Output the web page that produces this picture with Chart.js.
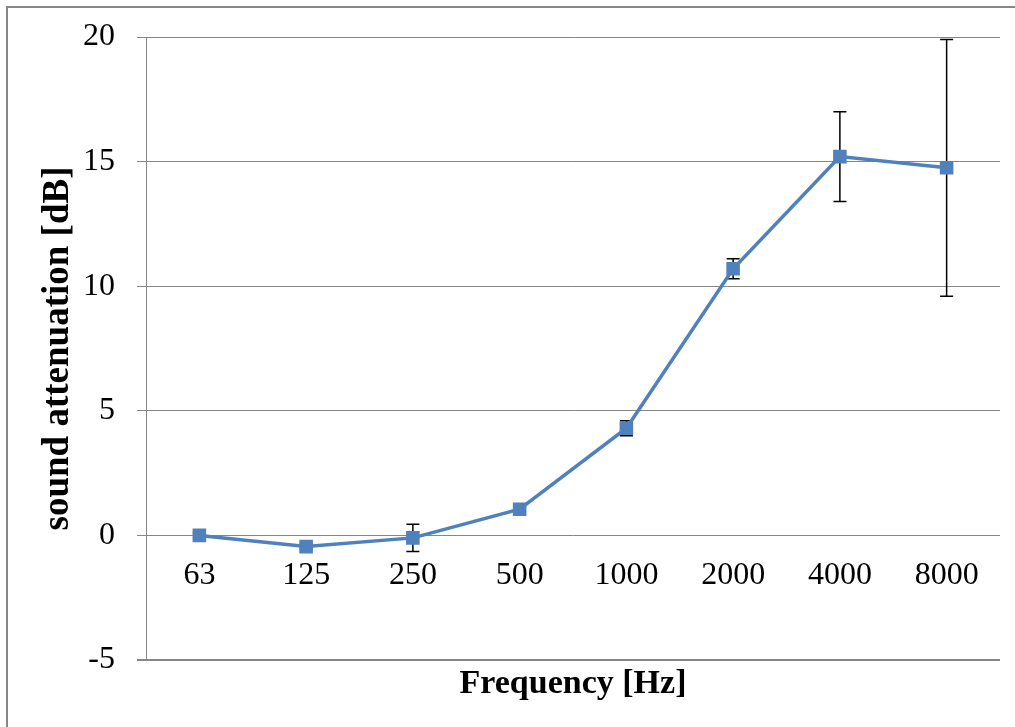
<!DOCTYPE html>
<html lang="en">
<head>
  <meta charset="UTF-8">
  <title>Sound attenuation</title>
  <script src="https://cdn.jsdelivr.net/npm/chart.js"></script>
  <style>
    body { margin:0; background:#fff; }
    #wrap { position:relative; width:1015px; height:727px; }
    #frame { position:absolute; left:6px; top:6px; right:0; bottom:0;
             border-left:2px solid #878787; border-top:2px solid #878787; pointer-events:none; }
  </style>
</head>
<body>
<div id="wrap">
  <canvas id="chart" width="1015" height="727"></canvas>
  <div id="frame"></div>
</div>

<script>
  // values
  const frequencies = ["63","125","250","500","1000","2000","4000","8000"];
  const attenuation = [0, -0.45, -0.1, 1.05, 4.3, 10.7, 15.2, 14.75];
  const errors      = [0.1, 0.1, 0.55, 0.1, 0.3, 0.4, 1.8, 5.15];
  const yTicks      = [-5, 0, 5, 10, 15, 20];

  const serif = "'Liberation Serif','Times New Roman',serif";
  const grey = "#868686";
  const blue = "#4F81BD";

  // error bars drawn under the markers
  const errorBars = {
    id: "errorBars",
    beforeDatasetsDraw(chart) {
      const ctx = chart.ctx, xs = chart.scales.x, ys = chart.scales.y;
      ctx.save();
      ctx.strokeStyle = "#000";
      ctx.lineWidth = 1.5;
      attenuation.forEach((v, i) => {
        const x = xs.getPixelForValue(i);
        const top = ys.getPixelForValue(v + errors[i]);
        const bot = ys.getPixelForValue(v - errors[i]);
        ctx.beginPath();
        ctx.moveTo(x, top); ctx.lineTo(x, bot);
        ctx.moveTo(x - 6.5, top); ctx.lineTo(x + 6.5, top);
        ctx.moveTo(x - 6.5, bot); ctx.lineTo(x + 6.5, bot);
        ctx.stroke();
      });
      ctx.restore();
    }
  };

  new Chart(document.getElementById("chart"), {
    type: "line",
    data: {
      labels: frequencies,
      datasets: [{
        data: attenuation,
        borderColor: blue,
        backgroundColor: blue,
        borderWidth: 3.5,
        pointStyle: "rect",
        pointRadius: 9.6,
        pointBorderWidth: 0,
        pointBackgroundColor: blue,
        tension: 0
      }]
    },
    options: {
      responsive: false,
      animation: false,
      events: [],
      layout: { padding: { top: 37, right: 15, left: 0, bottom: 0 } },
      plugins: { legend: { display: false }, tooltip: { enabled: false } },
      scales: {
        x: {
          type: "category",
          position: { y: 0 },
          offset: true,
          grid: { display: false, drawTicks: false },
          border: { display: false },
          ticks: { color: "#000", padding: 21, maxRotation: 0, font: { family: serif, size: 32 } }
        },
        xb: {
          type: "category",
          position: "bottom",
          offset: true,
          grid: { display: false, drawTicks: false },
          border: { display: false },
          ticks: { display: false },
          title: { display: true, text: "Frequency [Hz]", color: "#000", padding: { top: 0, bottom: 22 },
                   font: { family: serif, size: 34, weight: "bold" } },
          afterFit(s) { s.height = 67; }
        },
        y: {
          min: -5, max: 20,
          afterBuildTicks(s) { s.ticks = yTicks.map(v => ({ value: v })); },
          grid: { color: grey, tickLength: 9,
                  lineWidth: c => (c.tick && c.tick.value === -5 ? 2 : 1) },
          border: { color: grey, width: 1 },
          ticks: { color: "#000", padding: 22, font: { family: serif, size: 32 } },
          title: { display: true, text: "sound attenuation [dB]", color: "#000", padding: { top: 36 },
                   font: { family: serif, size: 37, weight: "bold" } },
          afterFit(s) { s.width = 146; s.paddingTop = 0; s.paddingBottom = 0; }
        }
      }
    },
    plugins: [errorBars]
  });
</script>
</body>
</html>
